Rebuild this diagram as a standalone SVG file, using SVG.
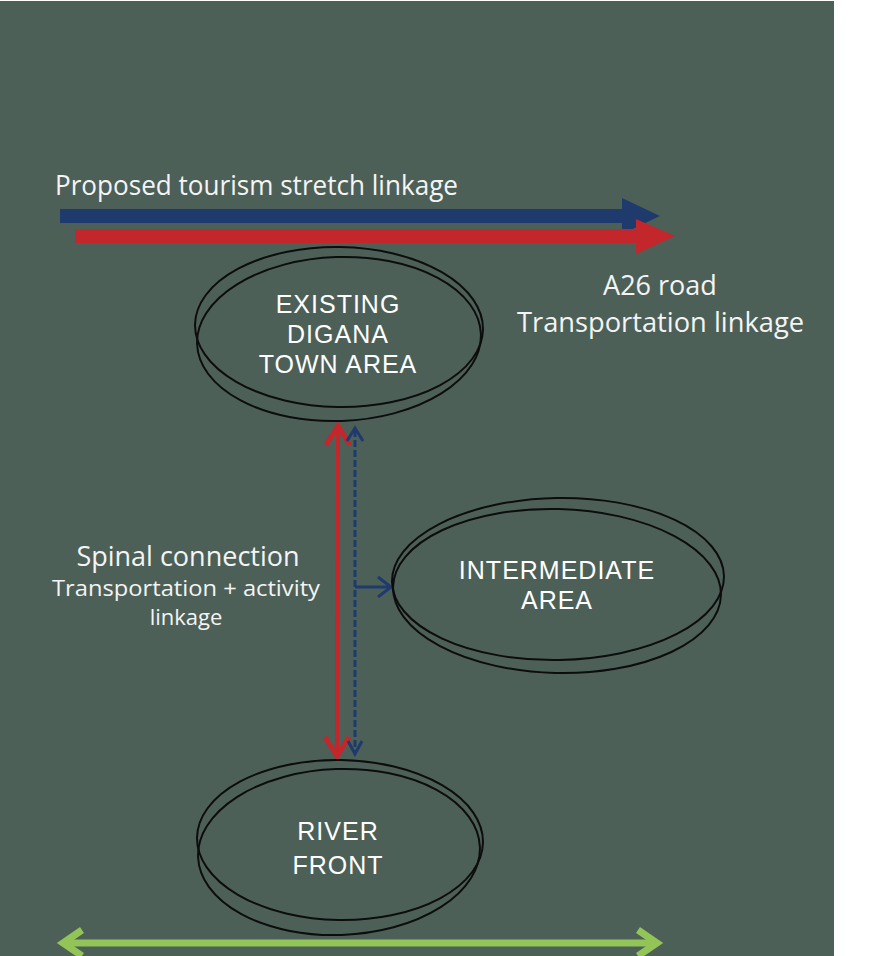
<svg xmlns="http://www.w3.org/2000/svg" width="881" height="956" viewBox="0 0 881 956">
<defs>
<style>
.bg{fill:#4d6058}
.ring{fill:none;stroke:#0d0d0d;stroke-width:2}
.lab{font-family:"Liberation Sans",Arial,sans-serif;font-size:25px;fill:#ffffff;text-anchor:middle;letter-spacing:1px}
.hand{font-family:"Open Sans","Liberation Sans",sans-serif;font-weight:400;fill:#f4f4f4}
.red{stroke:#c3262b;fill:none}
.blue{stroke:#1f3a6d;fill:none}
.green{stroke:#92c458;fill:none}
</style>
</defs>
<rect x="0" y="0" width="881" height="956" fill="#ffffff"/>
<rect class="bg" x="0" y="1" width="834" height="955"/>

<g id="labels">
<text class="hand" x="55" y="195" font-size="28" textLength="403" lengthAdjust="spacingAndGlyphs">Proposed tourism stretch linkage</text>
<text class="hand" x="660" y="295" font-size="27" text-anchor="middle">A26 road</text>
<text class="hand" x="517" y="332" font-size="27" textLength="287" lengthAdjust="spacingAndGlyphs">Transportation linkage</text>
<text class="hand" x="188" y="566" font-size="27" text-anchor="middle">Spinal connection</text>
<text class="hand" x="52" y="596" font-size="22" textLength="268" lengthAdjust="spacingAndGlyphs">Transportation + activity</text>
<text class="hand" x="186" y="625" font-size="22" text-anchor="middle">linkage</text>
</g>

<g id="connectors">
<line class="blue" x1="60" y1="216" x2="626" y2="216" stroke-width="14"/>
<polygon points="622,198 660,216 622,234" fill="#1f3a6d"/>
<line class="red" x1="75" y1="236" x2="640" y2="236" stroke-width="14"/>
<polygon points="636,219 675,236 636,254" fill="#c3262b"/>
<line class="red" x1="338" y1="428" x2="337" y2="754" stroke-width="4"/>
<polyline class="red" points="326,445 338,426 350,445" stroke-width="5"/>
<polyline class="red" points="325,737 337,756 349,737" stroke-width="5"/>
<line class="blue" x1="355" y1="430" x2="355" y2="752" stroke-width="3" stroke-dasharray="7,3"/>
<polyline class="blue" points="347,441 355,428 363,441" stroke-width="3"/>
<polyline class="blue" points="348,741 355,754 362,741" stroke-width="3"/>
<line class="blue" x1="355" y1="587" x2="390" y2="587" stroke-width="3"/>
<polyline class="blue" points="378,577 391,587 378,597" stroke-width="3"/>
<line class="green" x1="64" y1="943" x2="656" y2="943" stroke-width="7"/>
<polyline class="green" points="82,930 63,943 82,956" stroke-width="7"/>
<polyline class="green" points="638,930 657,943 638,956" stroke-width="7"/>
</g>

<g id="node-digana">
<ellipse class="ring" cx="339" cy="327" rx="144" ry="80" transform="rotate(1 339 327)"/>
<ellipse class="ring" cx="339" cy="339" rx="142" ry="82" transform="rotate(-2 339 339)"/>
<text class="lab" x="338" y="313">EXISTING</text>
<text class="lab" x="338" y="343">DIGANA</text>
<text class="lab" x="338" y="373">TOWN AREA</text>
</g>

<g id="node-intermediate">
<ellipse class="ring" cx="558" cy="579" rx="166" ry="81" transform="rotate(-1 558 579)"/>
<ellipse class="ring" cx="557" cy="591" rx="164" ry="82" transform="rotate(1.5 557 591)"/>
<text class="lab" x="557" y="579">INTERMEDIATE</text>
<text class="lab" x="557" y="609">AREA</text>
</g>

<g id="node-river">
<ellipse class="ring" cx="340" cy="840" rx="143" ry="80" transform="rotate(1 340 840)"/>
<ellipse class="ring" cx="339" cy="852" rx="141" ry="83" transform="rotate(-2 339 852)"/>
<text class="lab" x="338" y="840" font-size="27">RIVER</text>
<text class="lab" x="338" y="874" font-size="27">FRONT</text>
</g>
</svg>
